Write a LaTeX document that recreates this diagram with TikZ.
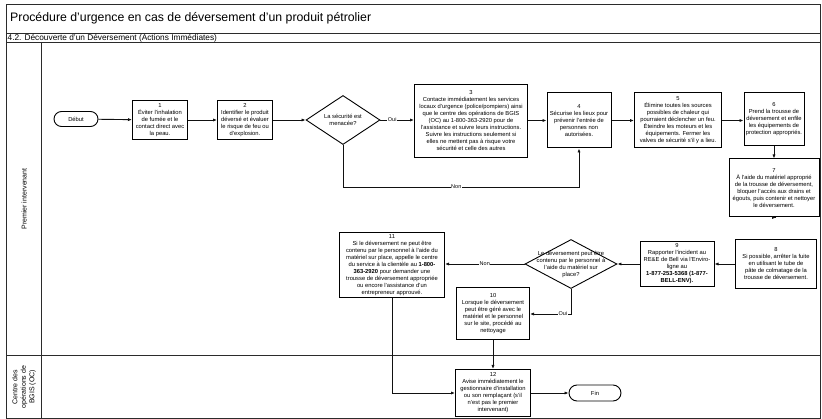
\documentclass[tikz,border=0pt]{standalone}
\usepackage{fontspec}
\setmainfont{Liberation Sans}
\usepackage{tikz}
\usetikzlibrary{shapes.geometric, arrows.meta, positioning, calc}
\definecolor{framegray}{HTML}{2B2B2B}
\definecolor{flowblack}{HTML}{111111}

\begin{document}
\begin{tikzpicture}[
  x=1pt, y=-1pt,
  task/.style={
    rectangle,
    draw=black,
    line width=1pt,
    align=center,
    inner sep=1pt,
    font=\fontsize{5.8}{7}\selectfont
  },
  decision/.style={
    diamond,
    draw=black,
    line width=0.9pt,
    align=center,
    inner sep=0pt,
    font=\fontsize{5.8}{7}\selectfont
  },
  terminal/.style={
    rectangle,
    draw=black,
    line width=0.9pt,
    rounded corners=7.5pt,
    minimum width=44pt,
    minimum height=15pt,
    font=\fontsize{5.8}{7}\selectfont
  },
  flow/.style={
    draw=flowblack,
    line width=0.9pt,
    -{Latex[length=4pt,width=3.2pt]}
  },
  lab/.style={
    fill=white,
    inner sep=0.6pt,
    font=\fontsize{5.5}{6}\selectfont
  },
  lanelabel/.style={
    rotate=90,
    align=center,
    font=\fontsize{7}{8.5}\selectfont
  }
]
  \useasboundingbox (0,0) rectangle (822,419);

  % Frame and swimlanes
  \draw[framegray, line width=0.9pt] (6,4) rectangle (820.5,418.5);
  \draw[framegray, line width=0.8pt] (6,33) -- (820.5,33);
  \draw[framegray, line width=1pt] (6,42.5) -- (820.5,42.5);
  \draw[framegray, line width=1pt] (6,356) -- (820.5,356);
  \draw[framegray, line width=0.9pt] (41.5,42.5) -- (41.5,418.5);

  \node[anchor=west, inner sep=0pt, font=\fontsize{12.3}{14}\selectfont] (title) at (10,18.5)
    {Procédure d'urgence en cas de déversement d'un produit pétrolier};
  \node[anchor=west, inner sep=0pt, font=\fontsize{8.3}{9}\selectfont] (subtitle) at (7.5,38)
    {4.2. Découverte d'un Déversement (Actions Immédiates)};
  \node[lanelabel] (lane1) at (24,199) {Premier intervenant};
  \node[lanelabel] (lane2) at (24,387) {Centre des\\opérations de\\BGIS (OC)};

  % Row 1
  \node[terminal] (debut) at (76,119) {Début};
  \node[task, minimum width=55pt, minimum height=39pt] (b1) at (160,120)
    {1\\Éviter l'inhalation\\de fumée et le\\contact direct avec\\la peau.};
  \node[task, minimum width=55pt, minimum height=39pt] (b2) at (245,120)
    {2\\Identifier le produit\\déversé et évaluer\\le risque de feu ou\\d'explosion.};
  \node[decision, minimum width=74pt, minimum height=39pt] (d1) at (343,120)
    {La sécurité est\\menacée?};
  \node[task, minimum width=113pt, minimum height=73pt] (b3) at (471,121)
    {3\\Contacte immédiatement les services\\locaux d'urgence (police/pompiers) ainsi\\que le centre des opérations de BGIS\\(OC) au 1-800-363-2920 pour de\\l'assistance et suivre leurs instructions.\\Suivre les instructions seulement si\\elles ne mettent pas à risque votre\\sécurité et celle des autres};
  \node[task, minimum width=64pt, minimum height=55pt] (b4) at (579,120.5)
    {4\\Sécurise les lieux pour\\prévenir l'entrée de\\personnes non\\autorisées.};
  \node[task, minimum width=87pt, minimum height=55pt] (b5) at (678,120.5)
    {5\\Élimine toutes les sources\\possibles de chaleur qui\\pourraient déclencher un feu.\\Éteindre les moteurs et les\\équipements. Fermer les\\valves de sécurité s'il y a lieu.};
  \node[task, minimum width=60pt, minimum height=53pt] (b6) at (774,119.5)
    {6\\Prend la trousse de\\déversement et enfile\\les équipements de\\protection appropriés.};

  % Right column
  \node[task, minimum width=90pt, minimum height=58pt] (b7) at (774,188)
    {7\\À l'aide du matériel approprié\\de la trousse de déversement,\\bloquer l'accès aux drains et\\égouts, puis contenir et nettoyer\\le déversement.};
  \node[task, minimum width=81pt, minimum height=49pt] (b8) at (776,264)
    {8\\Si possible, arrêter la fuite\\en utilisant le tube de\\pâte de colmatage de la\\trousse de déversement.};

  % Row 2
  \node[task, minimum width=74pt, minimum height=45pt] (b9) at (677,264)
    {9\\Rapporter l'incident au\\RE\&E de Bell via l'Enviro-\\ligne au\\\textbf{1-877-253-5368 (1-877-}\\\textbf{BELL-ENV).}};
  \node[decision, minimum width=92pt, minimum height=49pt,
        label={[align=center, font=\fontsize{5.8}{7}\selectfont]center:{Le déversement peut être\\contenu par le personnel à\\l'aide du matériel sur\\place?}}] (d2) at (571,264) {};
  \node[task, minimum width=105pt, minimum height=65pt] (b11) at (392,265)
    {11\\Si le déversement ne peut être\\contenu par le personnel à l'aide du\\matériel sur place, appelle le centre\\du service à la clientèle au \textbf{1-800-}\\\textbf{363-2920} pour demander une\\trousse de déversement appropriée\\ou encore l'assistance d'un\\entrepreneur approuvé.};
  \node[task, minimum width=73pt, minimum height=52pt] (b10) at (493,314)
    {10\\Lorsque le déversement\\peut être géré avec le\\matériel et le personnel\\sur le site, procédé au\\nettoyage};

  % BGIS lane
  \node[task, minimum width=75pt, minimum height=47pt] (b12) at (493,393)
    {12\\Avise immédiatement le\\gestionnaire d'installation\\ou son remplaçant (s'il\\n'est pas le premier\\intervenant)};
  \node[terminal, minimum width=52pt, minimum height=16pt, rounded corners=8pt] (fin) at (595,393) {Fin};

  % Connectors
  \draw[flow] (debut) -- (b1);
  \draw[flow] (b1) -- (b2);
  \draw[flow] (b2) -- (d1);
  \draw[flow] (d1.east) -- node[lab, pos=0.35]{Oui} (d1.east -| b3.west);
  \draw[flow] (b3.east |- b4) -- (b4);
  \draw[flow] (b4) -- (b5);
  \draw[flow] (b5) -- (b6.west |- b5);
  \draw[flow] (d1.south) -- ++(0,42) -| node[lab, pos=0.24]{Non} (b4.south);
  \draw[flow] (b6) -- (b7);
  \draw[flow] (b7) -- (b7.south -| b8.north);
  \draw[flow] (b8) -- (b9);
  \draw[flow] (b9) -- (d2.east);
  \draw[flow] (d2.west) -- node[lab]{Non} (d2.west -| b11.east);
  \draw[flow] (d2.south) |- node[lab, pos=0.6]{Oui} (b10.east);
  \draw[flow] (b10) -- (b12);
  \draw[flow] (b11.south) |- (b12.west);
  \draw[flow] (b12) -- (fin);
\end{tikzpicture}
\end{document}
